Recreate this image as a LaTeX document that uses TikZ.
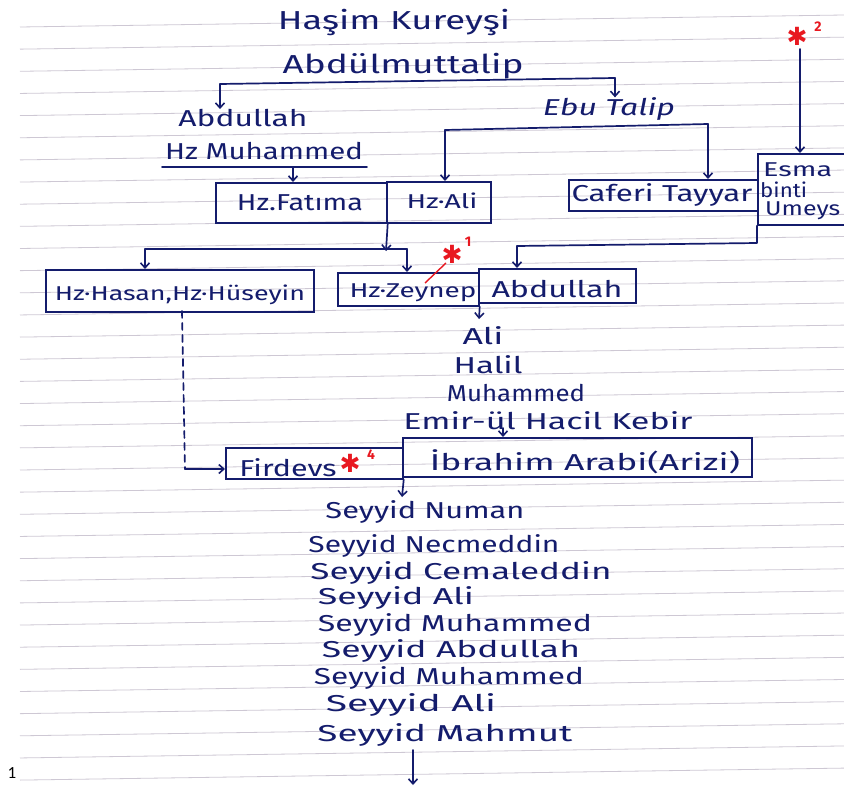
\documentclass[tikz,border=0pt]{standalone}
\usepackage{fontspec}
\usepackage{graphicx}
\usetikzlibrary{arrows.meta}
\newfontfamily\hand{Fira Sans}
\newfontfamily\djv{DejaVu Sans}
\newfontfamily\carl{Carlito}
\definecolor{ink}{RGB}{20,28,108}
\definecolor{paperrule}{RGB}{206,200,212}
\definecolor{redink}{RGB}{232,24,32}
\newcommand\hw[2]{\resizebox{#1pt}{\height}{#2}}
\begin{document}
\begin{tikzpicture}[x=1pt,y=-1pt,
  lbl/.style={inner sep=0pt, text=ink, font=\hand\fontsize{23}{23}\selectfont},
  big/.style={lbl, font=\hand\fontsize{26}{26}\selectfont},
  small/.style={lbl, font=\hand\fontsize{20}{20}\selectfont},
  cell/.style={draw=ink, line width=1.7pt, inner sep=0pt, anchor=north west},
  conn/.style={draw=ink, line width=1.7pt, line cap=round, line join=round},
  arr/.style={conn, -{Straight Barb[length=5pt,width=9pt,line width=1.6pt]}},
  dashline/.style={conn, dash pattern=on 7pt off 5pt},
  starmark/.style={inner sep=0pt, text=redink, font=\djv\fontsize{25}{25}\selectfont},
  supmark/.style={inner sep=0pt, text=redink, font=\hand\bfseries\fontsize{14}{14}\selectfont},
  paper/.style={draw=paperrule, line width=0.8pt}
]
\useasboundingbox (0,0) rectangle (844,789);
\fill[white] (0,0) rectangle (844,789);
% ruled paper
\foreach \k in {0,...,34}{
  \draw[paper] (20,{27+22.15*\k}) -- (844,{27+22.15*\k-12});
}
\node[inner sep=0pt, font=\carl\fontsize{17}{17}\selectfont] (pagenum) at (12,773) {1};

% titles
\node[big] (hasim) at (394,22) {\hw{232}{Haşim Kureyşi}};
\node[big] (abdmut) at (403,66) {\hw{241}{Abdülmuttalip}};
\node[lbl] (abdullahA) at (243,118) {\hw{129}{Abdullah}};
\node[lbl] (ebutalip) at (609,109) {\hw{132}{\itshape Ebu Talip}};
\node[lbl] (muhammed) at (264,151) {\hw{198}{Hz Muhammed}};

% boxes
\node[cell, minimum width=171pt, minimum height=40pt] (fatimabox) at (215,182) {};
\node[cell, minimum width=104pt, minimum height=41pt] (alibox) at (386,181) {};
\node[cell, minimum width=189pt, minimum height=31pt] (caferibox) at (568,179) {};
\node[cell, minimum width=95pt, minimum height=71pt] (esmabox) at (757,153) {};
\node[cell, minimum width=268pt, minimum height=42pt] (hasanbox) at (45,269) {};
\node[cell, minimum width=141pt, minimum height=33pt] (zeynepbox) at (337,272) {};
\node[cell, minimum width=157pt, minimum height=34pt] (abdbox) at (478,268) {};
\node[cell, minimum width=177pt, minimum height=31pt] (firdevsbox) at (225,447) {};
\node[cell, minimum width=349pt, minimum height=39pt] (ibrahimbox) at (402,437) {};

% box texts
\node[lbl] (fatima) at (300,203) {\hw{126}{Hz.Fatıma}};
\node[small] (ali) at (442,201) {\hw{71}{Hz·Ali}};
\node[lbl] (caferi) at (662,195) {\hw{181}{Caferi Tayyar}};
\node[small, anchor=west] (esma) at (763,170) {\hw{69}{Esma}};
\node[small, anchor=west] (binti) at (760,190) {\hw{47}{binti}};
\node[small, anchor=west] (umeys) at (765,211) {\hw{75}{Umeys}};
\node[small] (hasan) at (180,295) {\hw{250}{Hz·Hasan,Hz·Hüseyin}};
\node[small] (zeynep) at (413,293) {\hw{127}{Hz·Zeynep}};
\node[lbl] (abdullahB) at (557,289) {\hw{131}{Abdullah}};
\node[lbl] (firdevs) at (288,468) {\hw{97}{Firdevs}};
\node[lbl] (ibrahim) at (585,462) {\hw{310}{İbrahim Arabi(Arizi)}};

% middle names
\node[lbl] (aliB) at (483,336) {\hw{41}{Ali}};
\node[lbl] (halil) at (488,365) {\hw{69}{Halil}};
\node[lbl] (muhB) at (516,393) {\hw{138}{Muhammed}};
\node[lbl] (emir) at (548,421) {\hw{289}{Emir-ül Hacil Kebir}};

% seyyid list
\node[lbl] (s1) at (425,512) {\hw{199}{Seyyid Numan}};
\node[lbl] (s2) at (434,546) {\hw{251}{Seyyid Necmeddin}};
\node[lbl] (s3) at (461,573) {\hw{301}{Seyyid Cemaleddin}};
\node[lbl] (s4) at (396,598) {\hw{156}{Seyyid Ali}};
\node[lbl] (s5) at (455,625) {\hw{274}{Seyyid Muhammed}};
\node[lbl] (s6) at (451,651) {\hw{258}{Seyyid Abdullah}};
\node[lbl] (s7) at (449,678) {\hw{270}{Seyyid Muhammed}};
\node[lbl] (s8) at (411,705) {\hw{170}{Seyyid Ali}};
\node[lbl] (s9) at (445,735) {\hw{255}{Seyyid Mahmut}};

% red marks
\node[starmark] (star1) at (452,254) {✱};
\node[supmark] (sup1) at (468,242) {1};
\node[starmark] (star2) at (797,36) {✱};
\node[supmark] (sup2) at (818,27) {2};
\node[starmark] (star4) at (350,463) {✱};
\node[supmark] (sup4) at (371,455) {4};
\coordinate (r1a) at (425,283);
\coordinate (r1b) at (446,263);
\draw[draw=redink, line width=1.4pt] (r1a) -- (r1b);

% connectors
\coordinate (amL) at (220,84);
\coordinate (amR) at (615,78);
\draw[conn] (amL) -- (amR);
\draw[arr] (amL) -- (amL |- abdullahA.north);
\draw[arr] (amR) -- (amR |- ebutalip.north);

\coordinate (ulL) at (162,167);
\coordinate (ulR) at (367,167);
\coordinate (ulA) at (293,167);
\draw[conn] (ulL) -- (ulR);
\draw[arr] (ulA) -- (ulA |- fatimabox.north);

\coordinate (etL) at (445,130);
\coordinate (etR) at (708,124);
\draw[conn] (etL) -- (etR);
\draw[arr] (etL) -- (etL |- alibox.north);
\draw[arr] (etR) -- (etR |- caferibox.north);

\coordinate (st2) at (800,49);
\draw[arr] (st2) -- (st2 |- esmabox.north);

\coordinate (jn1) at (386,251);
\coordinate (hL) at (145,249);
\coordinate (hR) at (407,249);
\draw[arr] (fatimabox.south east) -- (jn1);
\draw[conn] (hL) -- (hR);
\draw[arr] (hL) -- (hL |- hasanbox.north);
\draw[arr] (hR) -- (hR |- zeynepbox.north);

\coordinate (esC) at (757,243);
\coordinate (abJ) at (517,246);
\draw[conn] (esmabox.south west) -- (esC) -- (abJ);
\draw[arr] (abJ) -- (abJ |- abdbox.north);

\coordinate (zT) at (479,319);
\draw[arr] (zeynepbox.south east) -- (zT);

\coordinate (emA) at (503,428);
\draw[arr] (emA) -- (emA |- ibrahimbox.north);

\coordinate (dsT) at (182,311);
\coordinate (dsC) at (185,469);
\draw[dashline] (dsT) -- (dsC);
\draw[arr] (dsC) -- (dsC -| firdevsbox.west);

\coordinate (ibT) at (402,497);
\draw[arr] (firdevsbox.south east) -- (ibT);

\coordinate (btT) at (413,750);
\coordinate (btE) at (413,785);
\draw[arr] (btT) -- (btE);
\end{tikzpicture}
\end{document}
